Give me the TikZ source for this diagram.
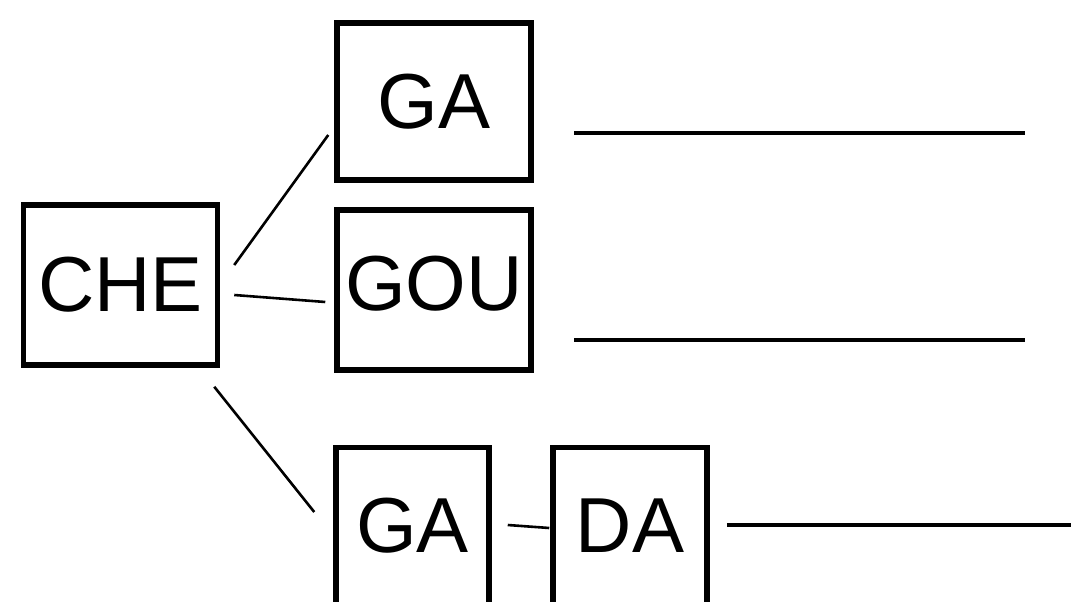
\documentclass[tikz,border=0pt]{standalone}
\usepackage{fontspec}
\setmainfont{Liberation Sans}
\usetikzlibrary{calc}
\begin{document}
\begin{tikzpicture}[x=1pt,y=-1pt,
  box/.style={draw=black,line width=5.5pt,inner sep=0pt,font=\fontsize{78}{90}\selectfont},
  conn/.style={draw=black,line width=2.6pt},
  rule/.style={draw=black,line width=4pt}]
\fill[white] (0,0) rectangle (1071,602);
\useasboundingbox (0,0) rectangle (1071,602);
\clip (0,0) rectangle (1071,602);
\node[box,minimum width=194pt,minimum height=160pt] (che) at (120.5,285) {CHE};
\node[box,minimum width=194pt,minimum height=157pt] (gatop) at (434,101.5) {GA};
\node[box,minimum width=194pt,minimum height=160pt,text depth=14pt] (gou) at (434,290) {GOU};
\node[box,minimum width=153pt,minimum height=157pt] (gabot) at (412.5,526) {GA};
\node[box,minimum width=154pt,minimum height=157pt] (da) at (630,526) {DA};
\draw[conn] ($(che.east)+(14,-20)$) -- ($(gatop.west)+(-6,33.5)$);
\draw[conn] ($(che.east)+(14,10)$) -- ($(gou.west)+(-9,12)$);
\draw[conn] ($(che.south east)+(-6,19)$) -- ($(gabot.west)+(-19,-14)$);
\draw[conn] ($(gabot.east)+(16,-1)$) -- ($(da.west)+(-1,2)$);
\draw[rule] (574,133) -- (1025,133);
\draw[rule] (574,340) -- (1025,340);
\draw[rule] ($(da.east)+(17,-1)$) -- ++(370,0);
\end{tikzpicture}
\end{document}
